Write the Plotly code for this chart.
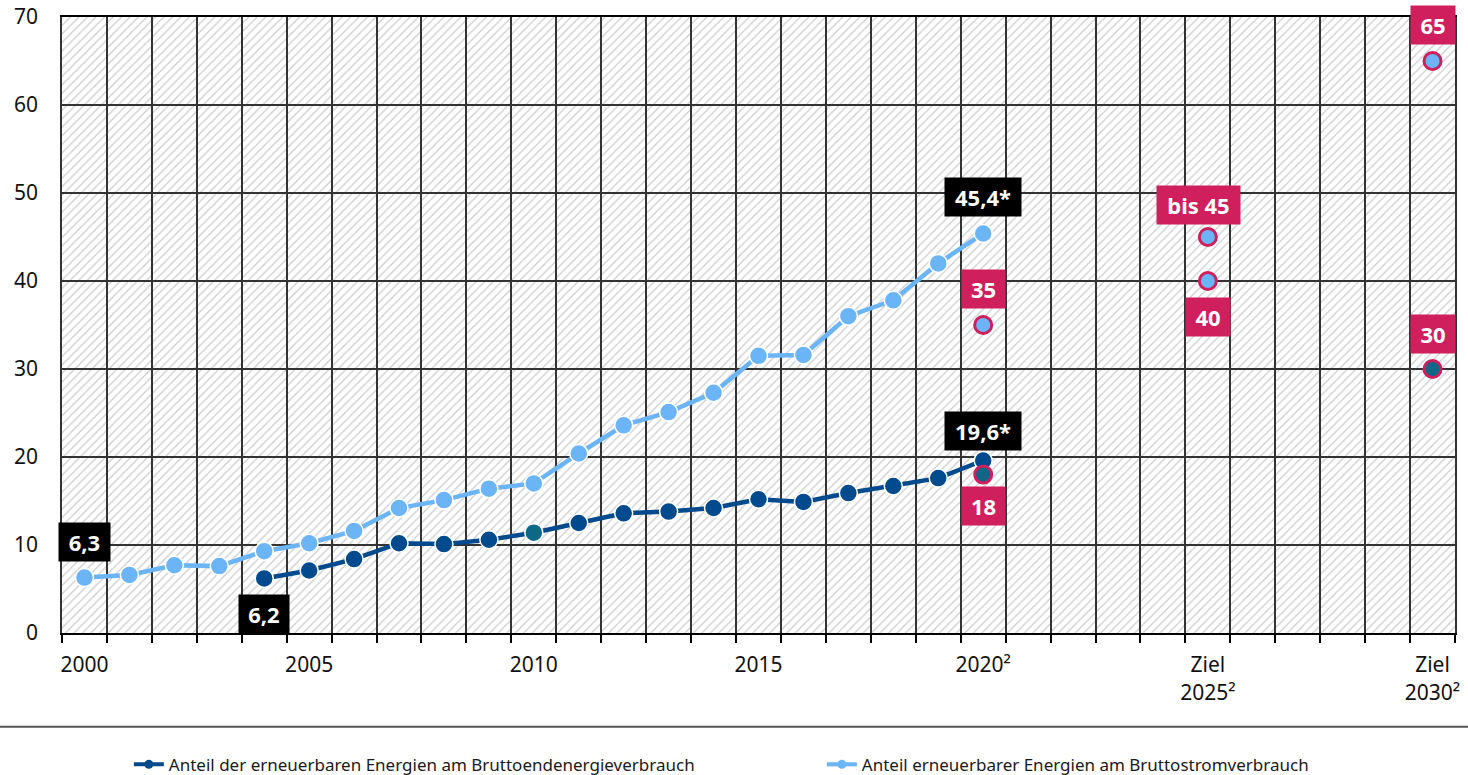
import plotly.graph_objects as go

# ---- data ----
years_strom = list(range(2000, 2021))
strom = [6.3, 6.6, 7.7, 7.6, 9.3, 10.2, 11.6, 14.2, 15.1, 16.4, 17.0,
         20.4, 23.6, 25.1, 27.3, 31.5, 31.6, 36.0, 37.8, 42.0, 45.4]
years_end = list(range(2004, 2021))
endenergie = [6.2, 7.1, 8.4, 10.2, 10.1, 10.6, 11.4, 12.5, 13.6, 13.8,
              14.2, 15.2, 14.9, 15.9, 16.7, 17.6, 19.6]
target_strom_x = [2020, 2025, 2025, 2030]
target_strom_y = [35, 40, 45, 65]
target_end_x = [2020, 2030]
target_end_y = [18, 30]
all_years = list(range(2000, 2031))
tick_years = [2000, 2005, 2010, 2015, 2020, 2025, 2030]
tick_text = ["2000", "2005", "2010", "2015", "2020²", "Ziel<br>2025²", "Ziel<br>2030²"]
y_max = 70
name_end = "Anteil der erneuerbaren Energien am Bruttoendenergieverbrauch"
name_strom = "Anteil erneuerbarer Energien am Bruttostromverbrauch"

# value labels: (text, x, y, kind, xshift, yshift, width)
labels = [
    ("6,3", 2000, 6.3, "black", 0, 36, 51),
    ("6,2", 2004, 6.2, "black", 0, -36, 50),
    ("45,4*", 2020, 45.4, "black", 0, 36, 76),
    ("19,6*", 2020, 19.6, "black", 0, 30, 76),
    ("35", 2020, 35, "target", 0, 36, 43),
    ("18", 2020, 18, "target", 0, -31, 43),
    ("bis 45", 2025, 45, "target", -9, 32, 83),
    ("40", 2025, 40, "target", 0, -36, 44),
    ("30", 2030, 30, "target", 0, 35, 44),
    ("65", 2030, 65, "target", 0, 36, 44),
]

LIGHT = "#6bb5f7"
DARK = "#004a8d"
TEAL = "#0d6887"
MAGENTA = "#cf1f5d"
GRID = "#333333"
FONT = "Noto Sans"

fig = go.Figure()

# hatched background on its own (lower) subplot so grid lines stay on top
fig.add_trace(go.Bar(
    x=all_years, y=[y_max] * len(all_years), width=1,
    xaxis="x", yaxis="y",
    marker=dict(color="rgba(0,0,0,0)", line=dict(width=0),
                pattern=dict(shape="/", fgcolor="#cbcbcb", size=6,
                             solidity=0.2, fillmode="replace")),
    showlegend=False, hoverinfo="skip"))

end_colors = [TEAL if yr == 2010 else DARK for yr in years_end]

fig.add_trace(go.Scatter(
    x=years_end, y=endenergie, mode="lines+markers", name=name_end,
    xaxis="x2", yaxis="y2", showlegend=False,
    line=dict(color=DARK, width=4.5),
    marker=dict(size=18, color=end_colors, line=dict(color="white", width=1.5))))

fig.add_trace(go.Scatter(
    x=years_strom, y=strom, mode="lines+markers", name=name_strom,
    xaxis="x2", yaxis="y2", showlegend=False,
    line=dict(color=LIGHT, width=4.5),
    marker=dict(size=18, color=LIGHT, line=dict(color="white", width=1.5))))

fig.add_trace(go.Scatter(
    x=target_strom_x, y=target_strom_y, mode="markers", showlegend=False,
    xaxis="x2", yaxis="y2",
    marker=dict(size=17, color=LIGHT, line=dict(color=MAGENTA, width=3))))
fig.add_trace(go.Scatter(
    x=target_end_x, y=target_end_y, mode="markers", showlegend=False,
    xaxis="x2", yaxis="y2",
    marker=dict(size=17, color=TEAL, line=dict(color=MAGENTA, width=3))))

# legend-only entries (small dot like the original key)
for nm, col in [(name_end, DARK), (name_strom, LIGHT)]:
    fig.add_trace(go.Scatter(
        x=[None], y=[None], mode="lines+markers", name=nm,
        xaxis="x2", yaxis="y2",
        line=dict(color=col, width=4), marker=dict(size=9, color=col)))

for text, x, y, kind, xs, ys, w in labels:
    fig.add_annotation(
        x=x, y=y, xref="x2", yref="y2", text=f"<b>{text}</b>", showarrow=False,
        xshift=xs, yshift=ys, width=w, height=38, borderpad=0,
        bgcolor="black" if kind == "black" else MAGENTA,
        font=dict(color="white", size=22, family=FONT))

# separator line above legend
fig.add_shape(type="line", xref="paper", yref="paper",
              x0=-0.05, x1=1.02, y0=-0.152, y1=-0.152,
              line=dict(color="#555555", width=2))

fig.update_layout(
    width=1468, height=775,
    margin=dict(l=62, r=13, t=17, b=142, autoexpand=False),
    paper_bgcolor="white", plot_bgcolor="rgba(0,0,0,0)",
    barmode="overlay", bargap=0,
    font=dict(family=FONT, color="#1a1a1a"),
    showlegend=True,
    legend=dict(orientation="h", xref="paper", x=0.048, xanchor="left",
                y=-0.214, yanchor="middle", font=dict(size=17),
                entrywidth=648, entrywidthmode="pixels",
                traceorder="normal"),
    xaxis=dict(domain=[0, 1], anchor="y", range=[1999.5, 2030.5], visible=False),
    yaxis=dict(domain=[0, 1], anchor="x", range=[0, y_max], visible=False),
    xaxis2=dict(
        domain=[0, 1], anchor="y2",
        range=[1999.5, 2030.5], tickvals=tick_years, ticktext=tick_text,
        ticks="", showgrid=False, zeroline=False,
        showline=True, linecolor="black", linewidth=2, mirror=True,
        tickfont=dict(size=21, color="#111111"), ticklabelstandoff=12,
        minor=dict(tick0=1999.5, dtick=1, ticks="outside", ticklen=8,
                   tickcolor="black", tickwidth=2, showgrid=True,
                   gridcolor=GRID, gridwidth=1.5),
    ),
    yaxis2=dict(
        domain=[0, 1], anchor="x2",
        range=[0, y_max], dtick=10, ticks="", showgrid=True,
        gridcolor=GRID, gridwidth=1.5, zeroline=False,
        showline=True, linecolor=GRID, linewidth=1.5, mirror=True,
        tickfont=dict(size=21, color="#111111"), ticklabelstandoff=18,
    ),
)

fig.write_html("out.html", config={"displayModeBar": False},
               post_script="document.body.style.margin='0';")
